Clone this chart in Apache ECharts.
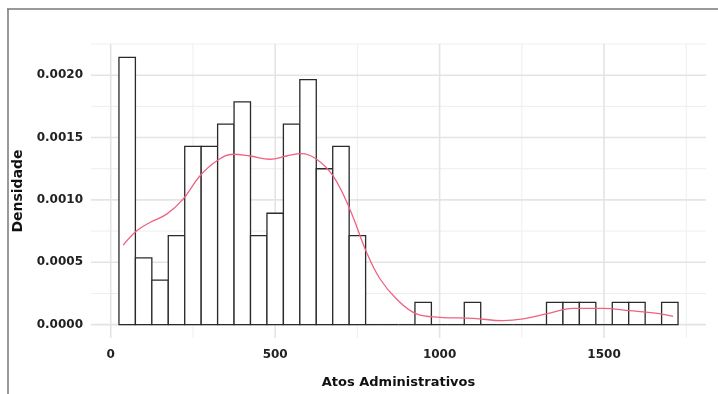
<!DOCTYPE html>
<html>
<head>
<meta charset="utf-8">
<script src="https://cdn.jsdelivr.net/npm/echarts@6/dist/echarts.min.js"></script>
<style>
  html, body { margin: 0; padding: 0; background: #fff; }
  #chart { width: 718px; height: 394px; }
</style>
</head>
<body>
<div id="chart"></div>
<script>
// histogram bins (binwidth 50), left/right edges and density
var binLeft = [25, 75, 125, 175, 225, 275, 325, 375, 425, 475, 525, 575, 625, 675, 725,
  775, 825, 875, 925, 975, 1025, 1075, 1125, 1175, 1225, 1275, 1325, 1375, 1425, 1475,
  1525, 1575, 1625, 1675];
var binRight = [75, 125, 175, 225, 275, 325, 375, 425, 475, 525, 575, 625, 675, 725, 775,
  825, 875, 925, 975, 1025, 1075, 1125, 1175, 1225, 1275, 1325, 1375, 1425, 1475, 1525,
  1575, 1625, 1675, 1725];
var binDensity = [0.002143, 0.000536, 0.000357, 0.000714, 0.001429, 0.001429, 0.001607,
  0.001786, 0.000714, 0.000893, 0.001607, 0.001964, 0.001250, 0.001429, 0.000714,
  0, 0, 0, 0.000179, 0, 0, 0.000179, 0, 0, 0, 0, 0.000179, 0.000179, 0.000179, 0,
  0.000179, 0.000179, 0, 0.000179];

// kernel density curve
var densX = [38, 79, 119, 170, 220, 271, 322, 372, 423, 484, 535, 580, 626, 676, 727,
  778, 818, 869, 930, 1001, 1102, 1193, 1254, 1325, 1406, 1497, 1578, 1649, 1710];
var densY = [0.000638, 0.000752, 0.000819, 0.000886, 0.001006, 0.001192, 0.001312,
  0.001366, 0.001352, 0.001326, 0.001352, 0.001371, 0.001326, 0.001192, 0.000926,
  0.000579, 0.000370, 0.000206, 0.000086, 0.000059, 0.000051, 0.000032, 0.000046,
  0.000086, 0.000131, 0.000131, 0.000112, 0.000094, 0.000067];

// axis ticks
var xMajor = [0, 500, 1000, 1500];
var xMinor = [250, 750, 1250, 1750];
var yMajor = [0, 0.0005, 0.001, 0.0015, 0.002];
var yMinor = [0.00025, 0.00075, 0.00125, 0.00175, 0.00225];

var X_MIN = -60, X_MAX = 1810, Y_MIN = -0.000107, Y_MAX = 0.00225;

var histData = [];
for (var i = 0; i < binLeft.length; i++) {
  histData.push([binLeft[i], binRight[i], binDensity[i]]);
}
var densData = [];
for (var j = 0; j < densX.length; j++) {
  densData.push([densX[j], densY[j]]);
}

// grid lines: [direction (0 = vertical, 1 = horizontal), value, major?]
var gridData = [];
xMinor.forEach(function (v) { gridData.push([0, v, 0]); });
yMinor.forEach(function (v) { gridData.push([1, v, 0]); });
xMajor.forEach(function (v) { gridData.push([0, v, 1]); });
yMajor.forEach(function (v) { gridData.push([1, v, 1]); });

var fontFam = 'DejaVu Sans';

var chart = echarts.init(document.getElementById('chart'));
chart.setOption({
  animation: false,
  backgroundColor: '#fff',
  grid: { left: 91, right: 12, top: 44, bottom: 55 },
  graphic: [
    { type: 'line', shape: { x1: 7, y1: 9, x2: 718, y2: 9 }, style: { stroke: '#777', lineWidth: 1.5 } },
    { type: 'line', shape: { x1: 8, y1: 9, x2: 8, y2: 394 }, style: { stroke: '#777', lineWidth: 1.5 } }
  ],
  xAxis: {
    type: 'value',
    min: X_MIN,
    max: X_MAX,
    name: 'Atos Administrativos',
    nameLocation: 'middle',
    nameGap: 38,
    nameTextStyle: { fontFamily: fontFam, fontWeight: 'bold', fontSize: 13, color: '#111' },
    axisLine: { show: false },
    axisTick: { show: false },
    splitLine: { show: false },
    axisLabel: {
      customValues: xMajor,
      margin: 11,
      fontFamily: fontFam, fontWeight: 'bold', fontSize: 12, color: '#222',
      formatter: function (v) { return String(v); }
    }
  },
  yAxis: {
    type: 'value',
    min: Y_MIN,
    max: Y_MAX,
    name: 'Densidade',
    nameLocation: 'middle',
    nameGap: 60,
    nameRotate: 90,
    nameTextStyle: { fontFamily: fontFam, fontWeight: 'bold', fontSize: 14, color: '#111' },
    axisLine: { show: false },
    axisTick: { show: false },
    splitLine: { show: false },
    axisLabel: {
      customValues: yMajor,
      margin: 8,
      fontFamily: fontFam, fontWeight: 'bold', fontSize: 12, color: '#222',
      formatter: function (v) { return v.toFixed(4); }
    }
  },
  series: [
    {
      // panel grid lines
      type: 'custom',
      data: gridData,
      silent: true,
      z: 1,
      renderItem: function (params, api) {
        var dir = api.value(0), v = api.value(1), major = api.value(2);
        var a, b;
        if (dir === 0) {
          a = api.coord([v, Y_MIN]); b = api.coord([v, Y_MAX]);
        } else {
          a = api.coord([X_MIN, v]); b = api.coord([X_MAX, v]);
        }
        return {
          type: 'line',
          shape: { x1: a[0], y1: a[1], x2: b[0], y2: b[1] },
          style: { stroke: major ? '#e4e4e4' : '#eeeeee', lineWidth: major ? 1.6 : 1 }
        };
      }
    },
    {
      type: 'custom',
      data: histData,
      encode: { x: [0, 1], y: 2 },
      z: 3,
      renderItem: function (params, api) {
        var p0 = api.coord([api.value(0), 0]);
        var p1 = api.coord([api.value(1), api.value(2)]);
        return {
          type: 'polygon',
          shape: { points: [[p0[0], p0[1]], [p0[0], p1[1]], [p1[0], p1[1]], [p1[0], p0[1]]] },
          style: { fill: '#ffffff', stroke: '#2a2a2a', lineWidth: 1.3 }
        };
      }
    },
    {
      type: 'line',
      data: densData,
      smooth: 0.4,
      showSymbol: false,
      lineStyle: { color: '#ef6282', width: 1.3 },
      z: 5
    }
  ]
});
</script>
</body>
</html>
